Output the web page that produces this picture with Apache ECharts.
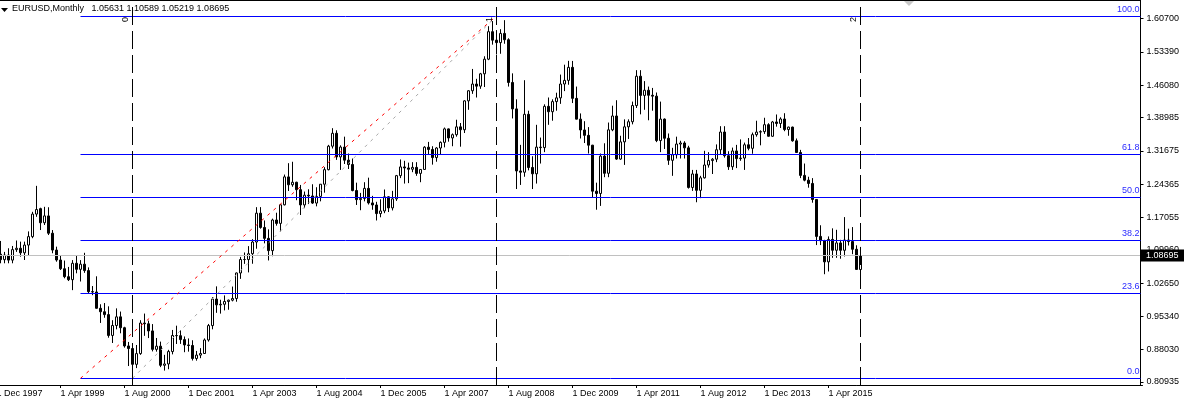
<!DOCTYPE html>
<html><head><meta charset="utf-8">
<script src="https://cdn.jsdelivr.net/npm/echarts@6/dist/echarts.min.js"></script>
<style>html,body{margin:0;padding:0;background:#fff;overflow:hidden}#c{width:1184px;height:403px}</style>
</head><body><div id="c"></div>
<script>
// ---------------- DATA ----------------
const symbolTitle = 'EURUSD,Monthly';
const lastQuote = [1.05631, 1.10589, 1.05219, 1.08695]; // O H L C of the last bar
// monthly bars Jan 1998 .. Dec 2015
const openP = [
1.0900,1.0780,1.0880,1.0770,1.1000,1.1030,1.0930,1.1100,1.1285,1.1780,1.1900,1.1590,
1.1740,1.1360,1.0990,1.0772,1.0580,1.0406,1.0340,1.0700,1.0567,1.0680,1.0540,1.0077,
1.0070,0.9712,0.9636,0.9573,0.9116,0.9334,0.9524,0.9285,0.8885,0.8828,0.8482,0.8717,
0.9388,0.9372,0.9215,0.8810,0.8880,0.8460,0.8490,0.8762,0.9114,0.9110,0.9024,0.8907,
0.8895,0.8610,0.8684,0.8719,0.9016,0.9332,0.9914,0.9787,0.9800,0.9861,0.9890,0.9927,
1.0487,1.0783,1.0782,1.0910,1.1167,1.1800,1.1487,1.1247,1.0978,1.1650,1.1576,1.1984,
1.2597,1.2424,1.2479,1.2316,1.1982,1.2195,1.2178,1.2022,1.2168,1.2436,1.2755,1.3271,
1.3554,1.3035,1.3252,1.2964,1.2869,1.2297,1.2098,1.2124,1.2345,1.2025,1.1980,1.1791,
1.1849,1.2159,1.1916,1.2115,1.2624,1.2816,1.2793,1.2765,1.2806,1.2674,1.2760,1.3249,
1.3199,1.3021,1.3231,1.3355,1.3651,1.3452,1.3523,1.3695,1.3632,1.4266,1.4488,1.4635,
1.4589,1.4860,1.5181,1.5785,1.5599,1.5545,1.5747,1.5608,1.4670,1.4090,1.2727,1.2699,
1.3971,1.2803,1.2665,1.3251,1.3240,1.4146,1.4028,1.4250,1.4332,1.4636,1.4716,1.5002,
1.4321,1.3865,1.3627,1.3509,1.3293,1.2283,1.2233,1.3053,1.2676,1.3630,1.3934,1.2988,
1.3366,1.3696,1.3808,1.4163,1.4807,1.4386,1.4499,1.4389,1.4370,1.3394,1.3866,1.3445,
1.2961,1.3083,1.3318,1.3341,1.3234,1.2365,1.2661,1.2302,1.2576,1.2858,1.2955,1.2985,
1.3193,1.3582,1.3062,1.2820,1.3166,1.2998,1.3010,1.3302,1.3224,1.3524,1.3581,1.3591,
1.3743,1.3489,1.3803,1.3770,1.3868,1.3636,1.3690,1.3389,1.3132,1.2630,1.2525,1.2453,
1.2101,1.1290,1.1196,1.0731,1.1224,1.0986,1.1147,1.0985,1.1211,1.1177,1.1008,1.05631];
const highP = [
1.1190,1.0950,1.1030,1.1080,1.1200,1.1175,1.1175,1.1400,1.1830,1.2400,1.1920,1.1940,
1.1930,1.1430,1.1065,1.0880,1.0760,1.0620,1.0770,1.0860,1.0770,1.0930,1.0610,1.0200,
1.0414,0.9800,0.9827,0.9755,0.9450,0.9710,0.9640,0.9306,0.8973,0.8859,0.8906,0.9450,
0.9596,0.9440,0.9365,0.9060,0.8980,0.8690,0.8800,0.9236,0.9330,0.9226,0.9093,0.9050,
0.9010,0.8775,0.8837,0.9050,0.9368,0.9955,1.0193,0.9900,0.9995,0.9903,1.0189,1.0497,
1.0840,1.0937,1.1077,1.1230,1.1932,1.1933,1.1640,1.1445,1.1680,1.1810,1.2000,1.2648,
1.2898,1.2929,1.2490,1.2420,1.2275,1.2325,1.2435,1.2370,1.2440,1.2810,1.3300,1.3666,
1.3620,1.3290,1.3480,1.3110,1.3000,1.2470,1.2245,1.2480,1.2580,1.2180,1.2050,1.2105,
1.2320,1.2170,1.2290,1.2640,1.2980,1.2950,1.2910,1.2920,1.2920,1.2760,1.3270,1.3365,
1.3270,1.3250,1.3375,1.3680,1.3660,1.3550,1.3852,1.3780,1.4280,1.4500,1.4967,1.4750,
1.4880,1.5245,1.5905,1.6018,1.5820,1.5840,1.6038,1.5640,1.4870,1.4300,1.3300,1.4720,
1.4050,1.3050,1.3740,1.3460,1.4190,1.4340,1.4300,1.4445,1.4843,1.5060,1.5145,1.5143,
1.4580,1.3990,1.3820,1.3690,1.3300,1.2470,1.3110,1.3335,1.3790,1.4160,1.4280,1.3500,
1.3860,1.3860,1.4250,1.4940,1.4940,1.4700,1.4580,1.4550,1.4450,1.4250,1.3880,1.3550,
1.3235,1.3480,1.3390,1.3380,1.3280,1.2750,1.2750,1.2620,1.3170,1.3140,1.3010,1.3310,
1.3710,1.3710,1.3160,1.3240,1.3300,1.3420,1.3350,1.3450,1.3570,1.3830,1.3620,1.3895,
1.3775,1.3825,1.3967,1.3905,1.3995,1.3700,1.3700,1.3440,1.3190,1.2890,1.2600,1.2570,
1.2110,1.1535,1.1215,1.1290,1.1467,1.1435,1.1215,1.1714,1.1460,1.1495,1.1095,1.10589];
const lowP = [
1.0700,1.0700,1.0700,1.0700,1.0950,1.0845,1.0772,1.0880,1.1250,1.1720,1.1430,1.1540,
1.1320,1.0920,1.0735,1.0552,1.0370,1.0310,1.0110,1.0480,1.0300,1.0490,1.0040,1.0000,
0.9705,0.9390,0.9504,0.9066,0.8950,0.9250,0.9163,0.8848,0.8444,0.8228,0.8399,0.8690,
0.9107,0.9058,0.8765,0.8760,0.8420,0.8344,0.8374,0.8700,0.8928,0.8930,0.8748,0.8760,
0.8565,0.8562,0.8616,0.8712,0.8980,0.9250,0.9612,0.9595,0.9666,0.9680,0.9864,0.9856,
1.0358,1.0687,1.0500,1.0690,1.1020,1.1459,1.1138,1.0762,1.0855,1.1526,1.1400,1.1970,
1.2288,1.2380,1.2085,1.1760,1.1910,1.2000,1.2004,1.1950,1.2060,1.2250,1.2740,1.3220,
1.2970,1.2750,1.2880,1.2770,1.2280,1.1980,1.1865,1.2060,1.1990,1.1875,1.1640,1.1710,
1.1800,1.1825,1.1860,1.2070,1.2570,1.2450,1.2460,1.2700,1.2620,1.2480,1.2760,1.3100,
1.2866,1.2930,1.3080,1.3245,1.3370,1.3270,1.3480,1.3260,1.3560,1.4070,1.4420,1.4340,
1.4530,1.4570,1.5160,1.5500,1.5285,1.5300,1.5520,1.4580,1.3880,1.2330,1.2420,1.2600,
1.2740,1.2330,1.2450,1.2890,1.3140,1.3740,1.3830,1.4050,1.4200,1.4480,1.4620,1.4218,
1.3860,1.3440,1.3340,1.3110,1.2140,1.1876,1.1960,1.2590,1.2590,1.3600,1.2970,1.2970,
1.2860,1.3430,1.3750,1.4110,1.3970,1.4070,1.3840,1.4050,1.3360,1.3140,1.3210,1.2860,
1.2620,1.3000,1.3000,1.3000,1.2340,1.2290,1.2040,1.2130,1.2560,1.2800,1.2660,1.2920,
1.3080,1.3020,1.2750,1.2750,1.2790,1.2950,1.2750,1.3180,1.3105,1.3480,1.3290,1.3540,
1.3480,1.3475,1.3700,1.3670,1.3600,1.3500,1.3370,1.3130,1.2570,1.2500,1.2360,1.2030,
1.1100,1.1100,1.0460,1.0520,1.0820,1.0820,1.0800,1.0850,1.1090,1.0900,1.0557,1.05219];
const closeP = [
1.0780,1.0880,1.0770,1.1000,1.1030,1.0930,1.1100,1.1285,1.1780,1.1880,1.1590,1.1740,
1.1360,1.0990,1.0772,1.0580,1.0406,1.0340,1.0700,1.0567,1.0680,1.0540,1.0077,1.0070,
0.9712,0.9636,0.9573,0.9116,0.9334,0.9524,0.9285,0.8885,0.8828,0.8482,0.8717,0.9388,
0.9372,0.9215,0.8810,0.8880,0.8460,0.8490,0.8762,0.9114,0.9110,0.9024,0.8907,0.8895,
0.8610,0.8684,0.8719,0.9016,0.9332,0.9914,0.9787,0.9800,0.9861,0.9890,0.9927,1.0487,
1.0783,1.0782,1.0910,1.1167,1.1800,1.1487,1.1247,1.0978,1.1650,1.1576,1.1984,1.2597,
1.2424,1.2479,1.2316,1.1982,1.2195,1.2178,1.2022,1.2168,1.2436,1.2755,1.3271,1.3554,
1.3035,1.3252,1.2964,1.2869,1.2297,1.2098,1.2124,1.2345,1.2025,1.1980,1.1791,1.1849,
1.2159,1.1916,1.2115,1.2624,1.2816,1.2793,1.2765,1.2806,1.2674,1.2760,1.3249,1.3199,
1.3021,1.3231,1.3355,1.3651,1.3452,1.3523,1.3695,1.3632,1.4266,1.4488,1.4635,1.4589,
1.4860,1.5181,1.5785,1.5599,1.5545,1.5747,1.5608,1.4670,1.4090,1.2727,1.2699,1.3971,
1.2803,1.2665,1.3251,1.3240,1.4146,1.4028,1.4250,1.4332,1.4636,1.4716,1.5002,1.4321,
1.3865,1.3627,1.3509,1.3293,1.2283,1.2233,1.3053,1.2676,1.3630,1.3934,1.2988,1.3366,
1.3696,1.3808,1.4163,1.4807,1.4386,1.4499,1.4389,1.4370,1.3394,1.3866,1.3445,1.2961,
1.3083,1.3318,1.3341,1.3234,1.2365,1.2661,1.2302,1.2576,1.2858,1.2955,1.2985,1.3193,
1.3582,1.3062,1.2820,1.3166,1.2998,1.3010,1.3302,1.3224,1.3524,1.3581,1.3591,1.3743,
1.3489,1.3803,1.3770,1.3868,1.3636,1.3690,1.3389,1.3132,1.2630,1.2525,1.2453,1.2101,
1.1290,1.1196,1.0731,1.1224,1.0986,1.1147,1.0985,1.1211,1.1177,1.1008,1.0565,1.08695];
const priceTicks = [1.60700,1.53390,1.46080,1.38985,1.31675,1.24365,1.17055,1.09960,1.02650,0.95340,0.88030,0.80935];
const xTickLabels = ['1 Dec 1997','1 Apr 1999','1 Aug 2000','1 Dec 2001','1 Apr 2003','1 Aug 2004','1 Dec 2005','1 Apr 2007','1 Aug 2008','1 Dec 2009','1 Apr 2011','1 Aug 2012','1 Dec 2013','1 Apr 2015'];
const fibLow = 0.8175, fibHigh = 1.6130;
const fibLevels = [0, 23.6, 38.2, 50, 61.8, 100];
const fibStartMonth = '1 Sep 1999';
const trendEndIndex = 124.5;           // where both diagonals meet the 100 level
const grayStartMonth = '1 Oct 2000';
const timeZoneMonths = ['1 Oct 2000', '1 May 2008', '1 Dec 2015'];
const timeZoneLabels = ['0', '1', '2'];

// ---------------- LAYOUT ----------------
const SLOTS = 287;               // Dec 1997 .. (chart shift space)
const MON = ['Jan','Feb','Mar','Apr','May','Jun','Jul','Aug','Sep','Oct','Nov','Dec'];
const categories = [];
for (let k = 0; k < SLOTS; k++) { const m = 11 + k; categories.push('1 ' + MON[m % 12] + ' ' + (1997 + Math.floor(m / 12))); }
const candleData = categories.map(() => '-');
for (let i = 0; i < openP.length; i++) candleData[i + 1] = [openP[i], closeP[i], lowP[i], highP[i]];
const tickSet = new Set(xTickLabels);
const FONT = '"Liberation Sans", Arial, sans-serif';
const fibPrice = lv => fibLow + (fibHigh - fibLow) * lv / 100;
const idx = name => categories.indexOf(name);

const markData = [];
fibLevels.forEach(lv => {
  markData.push([{ coord: [idx(fibStartMonth), fibPrice(lv)], lineStyle: { color: '#0000ff', width: 1, type: 'solid' },
    label: { show: true, position: 'insideEndTop', formatter: lv.toFixed(1), color: '#2b2bff', fontSize: 9, fontFamily: FONT, distance: [1, 2] } },
    { coord: [SLOTS - 1, fibPrice(lv)] }]);
});
markData.push([{ coord: [0, lastQuote[3]], lineStyle: { color: '#c0c0c0', width: 1, type: 'solid' }, label: { show: false } },
  { coord: [SLOTS - 1, lastQuote[3]] }]);
markData.push([{ coord: [idx(fibStartMonth), fibLow], lineStyle: { color: '#ff0000', width: 1, type: [3, 5] }, label: { show: false } },
  { coord: [trendEndIndex, fibHigh] }]);
markData.push([{ coord: [idx(grayStartMonth), fibLow], lineStyle: { color: '#a8a8a8', width: 1, type: [3, 5] }, label: { show: false } },
  { coord: [trendEndIndex, fibHigh] }]);
timeZoneMonths.forEach((m, j) => {
  markData.push({ xAxis: m, lineStyle: { color: '#000', width: 1, type: [18, 6] },
    label: { show: true, position: 'insideEndTop', formatter: timeZoneLabels[j], color: '#000', fontSize: 9, fontFamily: FONT, distance: [17, 2] } });
});

const chart = echarts.init(document.getElementById('c'), null, { renderer: 'canvas' });
const Y_MAX = 1.64806, Y_MIN = 0.80276;
chart.setOption({
  animation: false,
  backgroundColor: '#ffffff',
  grid: { left: -5.5, top: 0, width: 1148, height: 385, containLabel: false, outerBoundsMode: 'none' },
  xAxis: {
    type: 'category', data: categories, boundaryGap: true,
    axisLine: { show: true, lineStyle: { color: '#000', width: 1 } },
    axisTick: { show: true, alignWithLabel: true, length: 3, interval: (i, v) => tickSet.has(v), lineStyle: { color: '#000' } },
    axisLabel: { show: true, interval: (i, v) => tickSet.has(v), align: 'left', margin: 4, fontSize: 9, color: '#000', fontFamily: FONT },
    splitLine: { show: false }
  },
  yAxis: {
    type: 'value', position: 'right', offset: -2, min: Y_MIN, max: Y_MAX, scale: true,
    axisLine: { show: true, lineStyle: { color: '#000', width: 1 } },
    axisTick: { show: true, length: 3, customValues: priceTicks, lineStyle: { color: '#000' } },
    axisLabel: { show: true, customValues: priceTicks, formatter: v => v.toFixed(5), margin: 6, fontSize: 9, color: '#000', fontFamily: FONT },
    splitLine: { show: false }
  },
  series: [{
    type: 'candlestick', data: candleData, barWidth: 2, silent: true,
    itemStyle: { color: '#ffffff', color0: '#000000', borderColor: '#000000', borderColor0: '#000000', borderWidth: 1 },
    markLine: { silent: true, symbol: ['none', 'none'], animation: false, precision: 5, data: markData }
  }]
});

// overlays: frame top, header, chart shift marker, last price box
const priceY = chart.convertToPixel({ yAxisIndex: 0 }, lastQuote[3]);
chart.setOption({
  graphic: [
    { type: 'line', shape: { x1: 0, y1: 0.5, x2: 1140, y2: 0.5 }, style: { stroke: '#000', lineWidth: 1 }, silent: true },
    { type: 'polygon', shape: { points: [[1, 8], [8, 8], [4.5, 12]] }, style: { fill: '#000' }, silent: true },
    { type: 'text', left: 12, top: 4, style: { text: symbolTitle + '   ' + lastQuote.map(v => v.toFixed(5)).join(' '), fill: '#000', font: '9px ' + FONT }, silent: true },
    { type: 'polygon', shape: { points: [[904, 1], [914, 1], [909, 6]] }, style: { fill: '#c8c8c8' }, silent: true },
    { type: 'rect', shape: { x: 1140, y: Math.round(priceY) - 6.5, width: 44, height: 12 }, style: { fill: '#000' }, z: 100, silent: true },
    { type: 'text', x: 1146, y: Math.round(priceY) - 0.5, style: { text: lastQuote[3].toFixed(5), fill: '#fff', font: '9px ' + FONT, verticalAlign: 'middle' }, z: 101, silent: true }
  ]
});
</script>
</body></html>
